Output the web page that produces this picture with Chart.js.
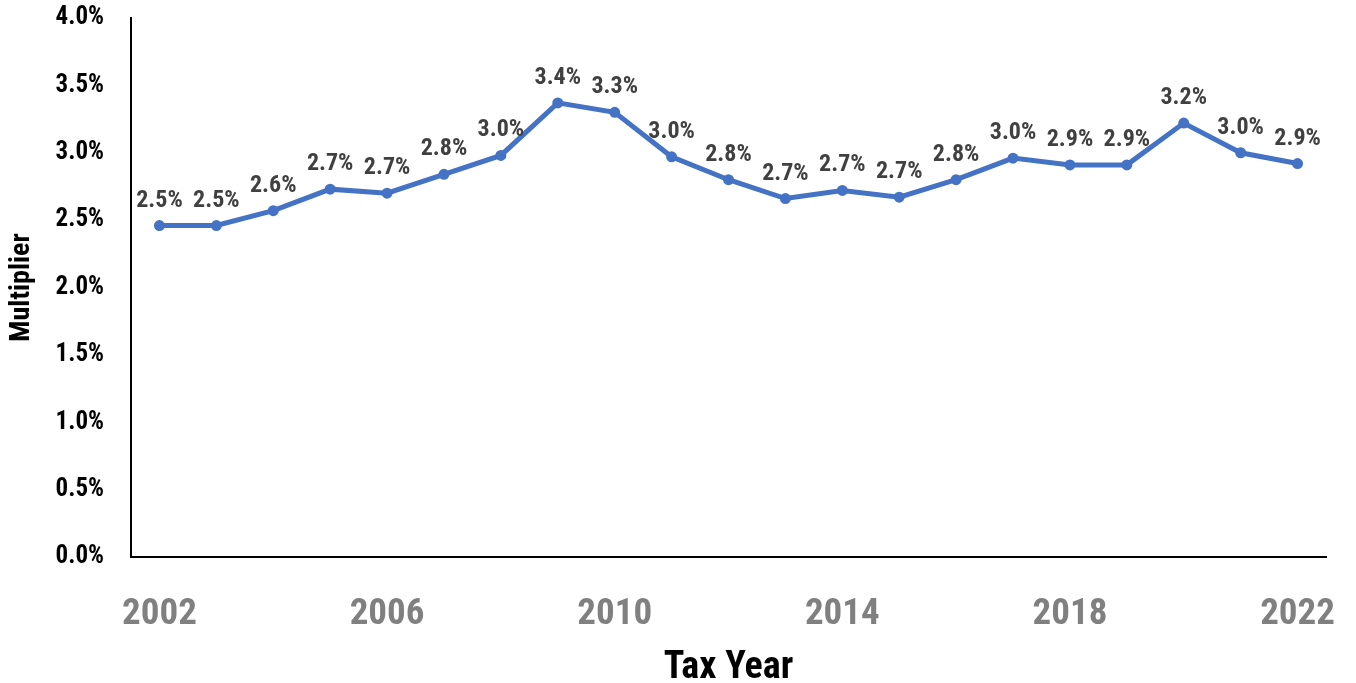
<!DOCTYPE html>
<html>
<head>
<meta charset="utf-8">
<script src="https://cdn.jsdelivr.net/npm/chart.js@4/dist/chart.umd.min.js"></script>
<style>
  html, body { margin: 0; padding: 0; background: #fff; }
  #wrap { width: 1356px; height: 683px; }
</style>
</head>
<body>
<div id="wrap"><canvas id="multChart"></canvas></div>
<script>
// values (percent)
const years = ["2002", "2003", "2004", "2005", "2006", "2007", "2008", "2009", "2010", "2011",
  "2012", "2013", "2014", "2015", "2016", "2017", "2018", "2019", "2020", "2021", "2022"];
const multiplier = [2.46, 2.46, 2.57, 2.73, 2.70, 2.84, 2.98, 3.37, 3.30, 2.97,
  2.80, 2.66, 2.72, 2.67, 2.80, 2.96, 2.91, 2.91, 3.22, 3.00, 2.92];
const yTicks = [0, 0.5, 1, 1.5, 2, 2.5, 3, 3.5, 4];

const FONT = "'Roboto Condensed', 'Liberation Sans Narrow', Roboto, sans-serif";

// no datalabels plugin available offline, so draw the point labels here
const pointLabels = {
    id: "pointLabels",
    afterDatasetsDraw(chart) {
        const ctx = chart.ctx;
        const meta = chart.getDatasetMeta(0);
        ctx.save();
        ctx.font = "bold 24px " + FONT;
        ctx.fillStyle = "#404040";
        ctx.textAlign = "center";
        ctx.textBaseline = "middle";
        meta.data.forEach((pt, i) => {
            ctx.fillText(multiplier[i].toFixed(1) + "%", pt.x, pt.y - 25);
        });
        ctx.restore();
    },
};

const ctx = document.getElementById("multChart");
new Chart(ctx, {
    type: "line",
    data: {
        labels: years,
        datasets: [
            {
                data: multiplier,
                borderColor: "#4472C4",
                backgroundColor: "#4472C4",
                borderWidth: 5,
                pointRadius: 3,
                pointHoverRadius: 3,
                tension: 0,
            },
        ],
    },
    options: {
        responsive: true,
        maintainAspectRatio: false,
        animation: false,
        layout: { padding: { top: 0, right: 30, left: 0, bottom: 0 } },
        plugins: {
            legend: { display: false },
            tooltip: { enabled: false },
        },
        scales: {
            x: {
                offset: true,
                afterFit: (scale) => {
                    scale.height = 126;
                    scale.paddingLeft = 0;
                    scale.paddingRight = 0;
                },
                grid: { display: false, drawTicks: false },
                border: { display: true, color: "#000", width: 2 },
                ticks: {
                    autoSkip: false,
                    maxRotation: 0,
                    padding: 36,
                    color: "#808080",
                    font: { family: FONT, size: 37, weight: "bold" },
                    callback: function (val, i) {
                        return i % 4 === 0 ? years[i] : "";
                    },
                },
                title: {
                    display: true,
                    text: "Tax Year",
                    color: "#000",
                    font: { family: FONT, size: 38, weight: "bold" },
                    padding: { top: 0, bottom: -8 },
                },
            },
            y: {
                min: 0,
                max: 4,
                afterBuildTicks: (axis) => {
                    axis.ticks = yTicks.map((v) => ({ value: v }));
                },
                afterFit: (scale) => {
                    scale.width = 131;
                    scale.paddingTop = 18;
                    scale.paddingBottom = 0;
                },
                grid: { display: false, drawTicks: false },
                border: { display: true, color: "#000", width: 2 },
                ticks: {
                    padding: 27,
                    color: "#000",
                    font: { family: FONT, size: 25, weight: "bold" },
                    callback: (v) => v.toFixed(1) + "%",
                },
                title: {
                    display: true,
                    text: "Multiplier",
                    color: "#000",
                    font: { family: FONT, size: 28, weight: "bold" },
                    padding: { top: 5, bottom: 4 },
                },
            },
        },
    },
    plugins: [pointLabels],
});
</script>
</body>
</html>
